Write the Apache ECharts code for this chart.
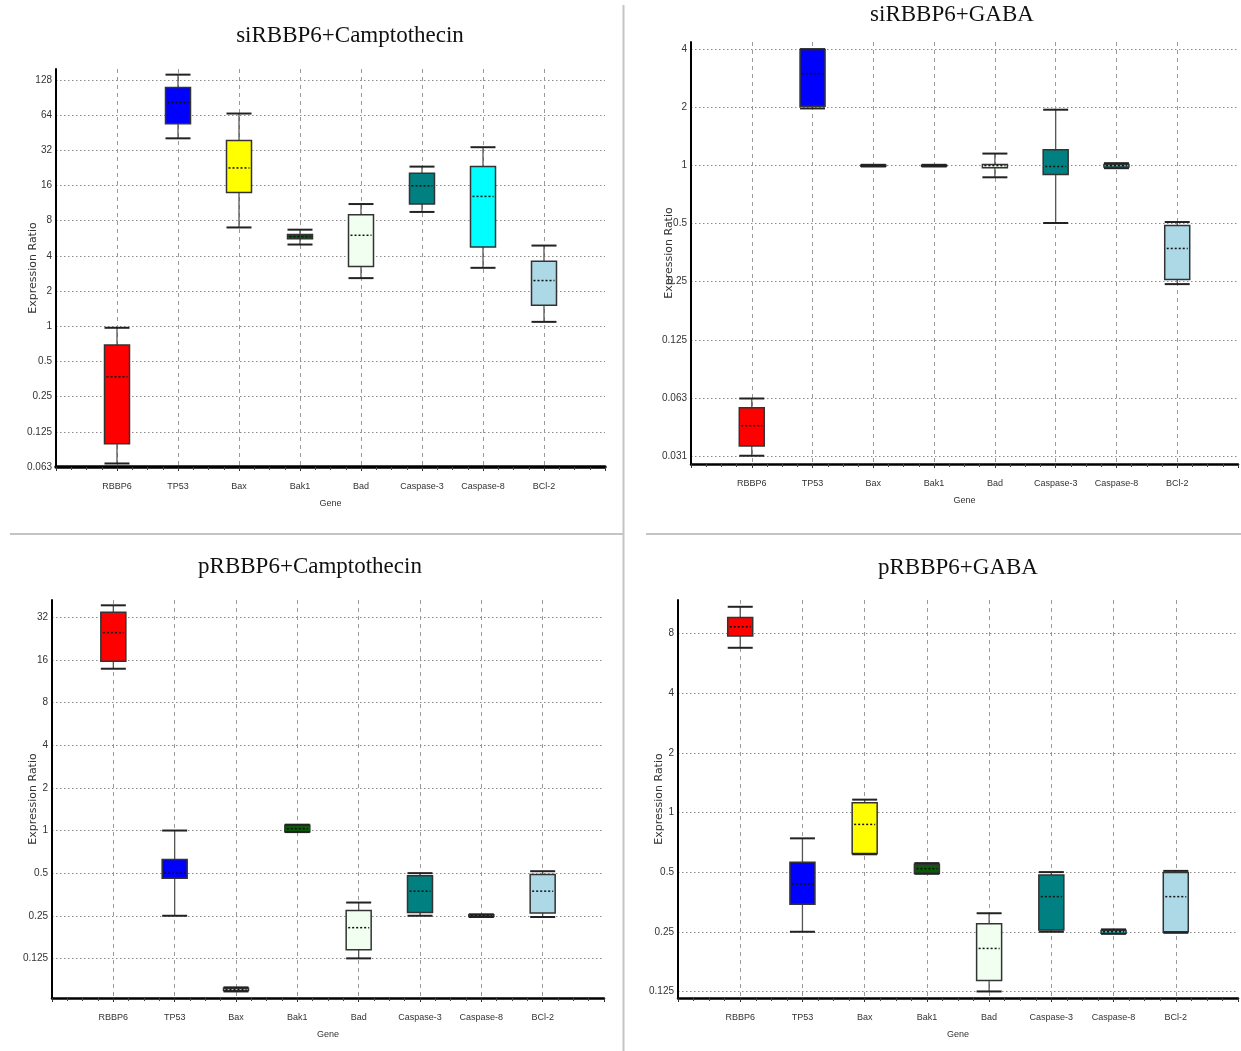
<!DOCTYPE html>
<html>
<head>
<meta charset="utf-8">
<title>RBBP6 expression ratios</title>
<script src="https://cdn.jsdelivr.net/npm/echarts@6/dist/echarts.min.js"></script>
<style>
  html, body { margin: 0; padding: 0; background: #fff; }
  #main { width: 1241px; height: 1051px; }
</style>
</head>
<body>
<div id="main"></div>
<script>
// genes on the x axis
var genes = ['RBBP6', 'TP53', 'Bax', 'Bak1', 'Bad', 'Caspase-3', 'Caspase-8', 'BCl-2'];
var geneColors = ['#ff0000', '#0000ff', '#ffff00', '#0a5a0a', '#f0fff0', '#008080', '#00ffff', '#add8e6'];

// each row: [min, Q1, median, Q3, max] (expression ratio)
var siCampto = [
    [0.067, 0.099, 0.37, 0.69, 0.97],
    [40.5, 54, 82, 110, 142],
    [7.0, 13.9, 22.6, 38.8, 66],
    [5.0, 5.6, 5.85, 6.1, 6.7],
    [2.58, 3.25, 6.0, 9.0, 11.1],
    [9.5, 11.1, 15.9, 20.4, 23.2],
    [3.16, 4.76, 12.9, 23.2, 34],
    [1.09, 1.51, 2.46, 3.6, 4.9]
];
var siGaba = [
    [0.0313, 0.0352, 0.0448, 0.0555, 0.062],
    [1.98, 2.03, 3.0, 4.0, 4.02],
    [0.99, 0.995, 1.0, 1.005, 1.01],
    [0.99, 0.995, 1.0, 1.005, 1.01],
    [0.87, 0.975, 1.0, 1.015, 1.155],
    [0.504, 0.90, 0.99, 1.21, 1.95],
    [0.97, 0.985, 1.0, 1.015, 1.03],
    [0.243, 0.257, 0.372, 0.49, 0.51]
];
var pCampto = [
    [13.9, 15.7, 25, 34.9, 39],
    [0.25, 0.46, 0.5, 0.624, 1.0],
    [0.073, 0.074, 0.075, 0.077, 0.078],
    [0.975, 0.98, 1.03, 1.09, 1.1],
    [0.125, 0.144, 0.206, 0.272, 0.31],
    [0.25, 0.264, 0.373, 0.48, 0.5],
    [0.245, 0.247, 0.25, 0.254, 0.256],
    [0.245, 0.262, 0.373, 0.49, 0.516]
];
var pGaba = [
    [6.77, 7.76, 8.64, 9.63, 10.9],
    [0.25, 0.344, 0.435, 0.56, 0.74],
    [0.615, 0.62, 0.87, 1.12, 1.16],
    [0.49, 0.494, 0.52, 0.547, 0.555],
    [0.125, 0.142, 0.206, 0.274, 0.31],
    [0.25, 0.255, 0.376, 0.483, 0.5],
    [0.244, 0.246, 0.25, 0.254, 0.257],
    [0.247, 0.25, 0.376, 0.497, 0.507]
];

// y tick labels (log2 scale), first one sits at 2^firstExp
var yLabels1 = ['0.063', '0.125', '0.25', '0.5', '1', '2', '4', '8', '16', '32', '64', '128'];
var yLabels2 = ['0.031', '0.063', '0.125', '0.25', '0.5', '1', '2', '4'];
var yLabels3 = ['0.125', '0.25', '0.5', '1', '2', '4', '8', '16', '32'];
var yLabels4 = ['0.125', '0.25', '0.5', '1', '2', '4', '8'];

var panels = [
    {title: 'siRBBP6+Camptothecin', data: siCampto, labels: yLabels1, firstExp: -4,
        grid: {left: 56, top: 69, width: 549, height: 398}, min: -4, max: 7.31,
        tx: 350, ty: 36, yGap: 17, xLine: 3.5},
    {title: 'siRBBP6+GABA', data: siGaba, labels: yLabels2, firstExp: -5,
        grid: {left: 691, top: 42, width: 550, height: 422}, min: -5.14, max: 2.13,
        tx: 952, ty: 15, yGap: 16, xLine: 2.5},
    {title: 'pRBBP6+Camptothecin', data: pCampto, labels: yLabels3, firstExp: -3,
        grid: {left: 52, top: 600, width: 552, height: 398}, min: -3.93, max: 5.41,
        tx: 310, ty: 567, yGap: 13, xLine: 2.5},
    {title: 'pRBBP6+GABA', data: pGaba, labels: yLabels4, firstExp: -3,
        grid: {left: 678, top: 600, width: 563, height: 398}, min: -3.11, max: 3.56,
        tx: 958, ty: 568, yGap: 13, xLine: 2.5}
];

var smallFont = '"Liberation Sans Narrow", "Arial Narrow", Arial, sans-serif';

function renderBox(params, api) {
    var x = api.value(0);
    var pMin = api.coord([x, api.value(1)]);
    var pQ1 = api.coord([x, api.value(2)]);
    var pMed = api.coord([x, api.value(3)]);
    var pQ3 = api.coord([x, api.value(4)]);
    var pMax = api.coord([x, api.value(5)]);
    var half = 12.5;
    var cx = pMed[0];
    var fill = geneColors[x - 1];
    return {
        type: 'group',
        children: [
            {type: 'line', shape: {x1: cx, y1: pMax[1], x2: cx, y2: pQ3[1]}, style: {stroke: '#555', lineWidth: 1.3}},
            {type: 'line', shape: {x1: cx, y1: pQ1[1], x2: cx, y2: pMin[1]}, style: {stroke: '#555', lineWidth: 1.3}},
            {type: 'rect', shape: {x: cx - half, y: pQ3[1], width: half * 2, height: Math.max(pQ1[1] - pQ3[1], 1)},
                style: {fill: fill, stroke: '#333', lineWidth: 1.5}},
            {type: 'line', shape: {x1: cx - half + 2, y1: pMed[1], x2: cx + half - 2, y2: pMed[1]},
                style: {stroke: '#111', lineWidth: 1.5, lineDash: [2, 2]}},
            {type: 'line', shape: {x1: cx - half, y1: pMax[1], x2: cx + half, y2: pMax[1]}, style: {stroke: '#222', lineWidth: 2}},
            {type: 'line', shape: {x1: cx - half, y1: pMin[1], x2: cx + half, y2: pMin[1]}, style: {stroke: '#222', lineWidth: 2}}
        ]
    };
}

var option = {
    animation: false,
    backgroundColor: '#fff',
    grid: [], xAxis: [], yAxis: [], series: [],
    graphic: [
        {type: 'line', shape: {x1: 623.5, y1: 5, x2: 623.5, y2: 1051}, style: {stroke: '#c4c4c4', lineWidth: 2}},
        {type: 'line', shape: {x1: 10, y1: 534, x2: 623, y2: 534}, style: {stroke: '#c4c4c4', lineWidth: 2}},
        {type: 'line', shape: {x1: 646, y1: 534, x2: 1241, y2: 534}, style: {stroke: '#c4c4c4', lineWidth: 2}}
    ]
};

panels.forEach(function (p, i) {
    option.grid.push(p.grid);
    option.graphic.push({
        type: 'text', x: p.tx, y: p.ty,
        style: {text: p.title, fontSize: 23, fontFamily: '"Liberation Serif", "Times New Roman", serif',
            fill: '#111', align: 'center', verticalAlign: 'middle'}
    });
    option.xAxis.push({
        type: 'value', gridIndex: i, min: 0, max: 9, interval: 1,
        name: 'Gene', nameLocation: 'middle', nameGap: 32, nameMoveOverlap: false,
        nameTextStyle: {fontSize: 9, fontFamily: smallFont, color: '#333'},
        axisLine: {onZero: false, lineStyle: {color: '#000', width: p.xLine}},
        axisTick: {show: true, length: 4, lineStyle: {color: '#333'}},
        minorTick: {show: true, splitNumber: 4, length: 3, lineStyle: {color: '#444'}},
        axisLabel: {
            margin: 15, fontSize: 9, fontFamily: smallFont, color: '#333',
            formatter: function (v) { return genes[v - 1] || ''; }
        },
        splitLine: {show: true, showMinLine: false, showMaxLine: false,
            lineStyle: {color: '#9a9a9a', type: [4, 4], width: 1}}
    });
    option.yAxis.push({
        type: 'value', gridIndex: i, min: p.min, max: p.max,
        splitNumber: 8, minInterval: 1, maxInterval: 1,
        name: 'Expression Ratio', nameLocation: 'middle', nameGap: p.yGap, nameMoveOverlap: false,
        nameTextStyle: {fontSize: 11, fontFamily: '"DejaVu Sans", sans-serif', color: '#333'},
        axisLine: {show: true, onZero: false, lineStyle: {color: '#000', width: 2}},
        axisTick: {show: false},
        axisLabel: {
            margin: 4, fontSize: 10, fontFamily: smallFont, color: '#333',
            formatter: function (v) {
                var k = Math.round(v);
                if (Math.abs(v - k) > 1e-6) return '';
                return p.labels[k - p.firstExp] || '';
            }
        },
        splitLine: {show: true, showMinLine: false, showMaxLine: false,
            lineStyle: {color: '#8a8a8a', type: [1.5, 2.5], width: 1}}
    });
    option.series.push({
        type: 'custom', xAxisIndex: i, yAxisIndex: i,
        renderItem: renderBox,
        encode: {x: 0, y: [1, 2, 3, 4, 5]},
        data: p.data.map(function (row, j) {
            return [j + 1].concat(row.map(function (v) { return Math.log2(v); }));
        })
    });
});

var chart = echarts.init(document.getElementById('main'));
chart.setOption(option);
</script>
</body>
</html>
